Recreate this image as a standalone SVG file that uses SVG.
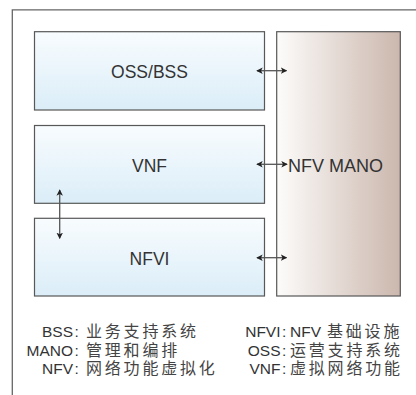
<svg xmlns="http://www.w3.org/2000/svg" width="416" height="395" viewBox="0 0 416 395">
  <style>
    .box { stroke: #585858; stroke-width: 1.2; }
    .lbl { font-family: "Liberation Sans", Arial, sans-serif; font-size: 17.5px; fill: #333; }
    .leg { font-family: "Liberation Sans", "Noto Sans CJK SC", sans-serif; font-size: 15.5px; fill: #333; }
    .cjk { font-family: "Noto Sans CJK SC", sans-serif; font-size: 16px; letter-spacing: 2.8px; fill: #444; }
    .conn { stroke: #555; stroke-width: 1.3; fill: none; marker-start: url(#ah); marker-end: url(#ah); }
  </style>
  <defs>
    <linearGradient id="blue" x1="0" y1="0" x2="0" y2="1">
      <stop offset="0" stop-color="#f8fcfe"/>
      <stop offset="1" stop-color="#dbedf8"/>
    </linearGradient>
    <linearGradient id="brown" x1="0" y1="0" x2="1" y2="0">
      <stop offset="0" stop-color="#fdfcfb"/>
      <stop offset="1" stop-color="#cbb7ad"/>
    </linearGradient>
    <marker id="ah" viewBox="0 0 8 8" refX="7" refY="4" markerWidth="5" markerHeight="5" markerUnits="strokeWidth" orient="auto-start-reverse">
      <path d="M0,0 L8,4 L0,8 L2,4 z" fill="#222"/>
    </marker>
  </defs>
  <rect width="416" height="395" fill="#fff"/>
  <g id="frame">
    <path d="M12.3,395 V9.8 H416" fill="none" stroke="#666" stroke-width="1.3"/>
  </g>
  <g id="oss-bss">
    <rect class="box" x="34.5" y="31.7" width="230" height="78.3" fill="url(#blue)"/>
    <text class="lbl" x="149.5" y="77.5" text-anchor="middle">OSS/BSS</text>
  </g>
  <g id="vnf">
    <rect class="box" x="34.5" y="125.5" width="230" height="77.8" fill="url(#blue)"/>
    <text class="lbl" x="149.5" y="171.5" text-anchor="middle">VNF</text>
  </g>
  <g id="nfvi">
    <rect class="box" x="34.5" y="218.3" width="230" height="77.7" fill="url(#blue)"/>
    <text class="lbl" x="149.5" y="264.5" text-anchor="middle">NFVI</text>
  </g>
  <g id="nfv-mano">
    <rect class="box" x="276.7" y="31.7" width="123.6" height="264.3" fill="url(#brown)"/>
    <text class="lbl" x="288" y="171.5" style="font-size:18px">NFV MANO</text>
  </g>
  <g id="connectors">
    <line class="conn" x1="257" y1="70.7" x2="286.5" y2="70.7"/>
    <line class="conn" x1="257" y1="164.3" x2="287" y2="164.3"/>
    <line class="conn" x1="257" y1="257.7" x2="286.5" y2="257.7"/>
    <line class="conn" x1="59.7" y1="190" x2="59.7" y2="238.3"/>
  </g>
  <g id="legend">
    <text class="leg" x="73" y="336.7" text-anchor="end">BSS</text>
    <text class="leg" x="74.5" y="336.7">:</text>
    <text class="cjk" x="86" y="337">业务支持系统</text>
    <text class="leg" x="73" y="355.5" text-anchor="end">MANO</text>
    <text class="leg" x="74.5" y="355.5">:</text>
    <text class="cjk" x="86" y="355.8">管理和编排</text>
    <text class="leg" x="73" y="374" text-anchor="end">NFV</text>
    <text class="leg" x="74.5" y="374">:</text>
    <text class="cjk" x="86" y="374.3">网络功能虚拟化</text>
    <text class="leg" x="280.5" y="336.7" text-anchor="end">NFVI</text>
    <text class="leg" x="282" y="336.7">:</text>
    <text class="leg" x="290" y="336.7">NFV</text>
    <text class="cjk" x="327" y="337">基础设施</text>
    <text class="leg" x="280.5" y="355.5" text-anchor="end">OSS</text>
    <text class="leg" x="282" y="355.5">:</text>
    <text class="cjk" x="290" y="355.8">运营支持系统</text>
    <text class="leg" x="280.5" y="374" text-anchor="end">VNF</text>
    <text class="leg" x="282" y="374">:</text>
    <text class="cjk" x="290" y="374.3">虚拟网络功能</text>
  </g>
</svg>
